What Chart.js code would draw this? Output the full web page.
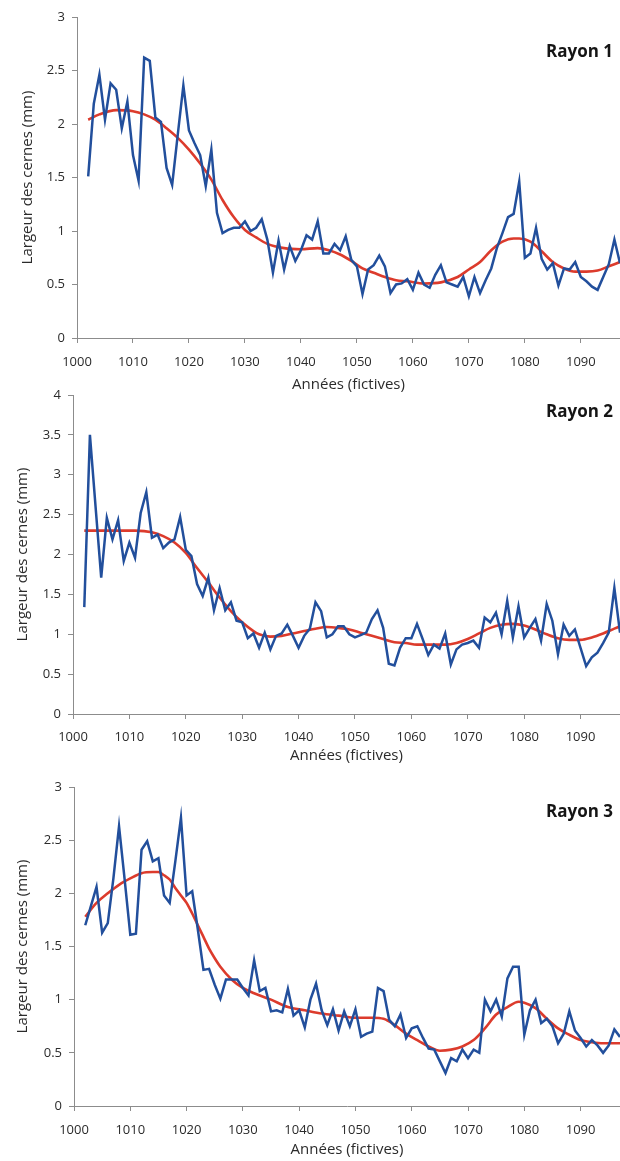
<!DOCTYPE html>
<html>
<head>
<meta charset="utf-8">
<script src="https://cdn.jsdelivr.net/npm/chart.js@4/dist/chart.umd.min.js"></script>
<style>
  html, body { margin: 0; padding: 0; background: #ffffff; }
  #wrap { position: relative; width: 620px; height: 1161px; overflow: hidden; background: #ffffff; }
  #wrap canvas { position: absolute; left: 0; top: 0; }
</style>
</head>
<body>
<div id="wrap">
  <canvas id="c1" width="620" height="1161"></canvas>
  <canvas id="c2" width="620" height="1161"></canvas>
  <canvas id="c3" width="620" height="1161"></canvas>
</div>
<script>
// ---------- DATA ----------
const years = [1002,1003,1004,1005,1006,1007,1008,1009,1010,1011,1012,1013,1014,1015,1016,1017,1018,1019,1020,1021,
  1022,1023,1024,1025,1026,1027,1028,1029,1030,1031,1032,1033,1034,1035,1036,1037,1038,1039,1040,1041,
  1042,1043,1044,1045,1046,1047,1048,1049,1050,1051,1052,1053,1054,1055,1056,1057,1058,1059,1060,1061,
  1062,1063,1064,1065,1066,1067,1068,1069,1070,1071,1072,1073,1074,1075,1076,1077,1078,1079,1080,1081,
  1082,1083,1084,1085,1086,1087,1088,1089,1090,1091,1092,1093,1094,1095,1096,1097];

const rayon1 = [1.51,2.19,2.46,2.04,2.38,2.32,1.96,2.21,1.71,1.47,2.62,2.59,2.06,2.02,1.59,1.43,1.90,2.36,1.94,1.82,
  1.71,1.42,1.76,1.17,0.98,1.01,1.03,1.03,1.09,1.00,1.03,1.11,0.92,0.61,0.91,0.64,0.86,0.72,0.82,0.96,
  0.92,1.09,0.79,0.79,0.88,0.82,0.95,0.73,0.67,0.41,0.64,0.68,0.77,0.67,0.42,0.50,0.51,0.55,0.45,0.61,
  0.50,0.47,0.59,0.68,0.52,0.50,0.48,0.57,0.39,0.57,0.42,0.54,0.65,0.84,0.98,1.13,1.16,1.46,0.75,0.79,
  1.03,0.74,0.64,0.70,0.49,0.65,0.64,0.71,0.57,0.53,0.48,0.45,0.57,0.69,0.92,0.70];

const rayon2 = [1.34,3.50,2.60,1.71,2.46,2.19,2.43,1.92,2.15,1.96,2.52,2.78,2.21,2.25,2.08,2.15,2.19,2.47,2.06,1.98,
  1.63,1.48,1.71,1.30,1.58,1.30,1.40,1.17,1.15,0.95,1.01,0.83,1.02,0.81,0.98,1.01,1.12,0.98,0.83,0.98,
  1.07,1.40,1.29,0.96,1.00,1.10,1.10,1.00,0.96,0.99,1.02,1.19,1.30,1.08,0.63,0.61,0.83,0.95,0.95,1.13,
  0.94,0.74,0.87,0.82,1.01,0.62,0.81,0.87,0.89,0.92,0.83,1.21,1.15,1.27,1.00,1.42,0.96,1.35,0.96,1.08,
  1.19,0.92,1.38,1.17,0.75,1.12,0.98,1.06,0.83,0.60,0.71,0.77,0.89,1.02,1.58,1.02];

const rayon3 = [1.70,1.88,2.06,1.63,1.72,2.14,2.63,2.13,1.61,1.62,2.41,2.49,2.30,2.33,1.98,1.91,2.30,2.71,1.98,2.02,
  1.66,1.28,1.29,1.14,1.01,1.19,1.19,1.19,1.11,1.04,1.37,1.08,1.11,0.89,0.90,0.88,1.10,0.85,0.90,0.74,
  1.00,1.15,0.90,0.76,0.91,0.71,0.89,0.75,0.91,0.65,0.68,0.70,1.11,1.08,0.81,0.75,0.86,0.64,0.73,0.75,
  0.64,0.54,0.53,0.42,0.31,0.45,0.42,0.53,0.45,0.53,0.50,1.00,0.89,1.00,0.84,1.20,1.31,1.31,0.67,0.90,
  1.00,0.78,0.82,0.75,0.59,0.68,0.89,0.71,0.64,0.56,0.62,0.57,0.50,0.57,0.72,0.65];

// smoothed trend (red curves), read at sample years
const trendYears1 = [1002,1004,1007,1010,1012,1014,1016,1018,1020,1022,1024,1026,1028,1030,1032,1034,1037,1040,1043,1045,
  1047,1049,1051,1053,1055,1057,1059,1062,1065,1068,1070,1072,1074,1076,1078,1079,1081,1083,1085,1087,1089,1091,1093,1095,1097];
const trend1 = [2.04,2.09,2.13,2.12,2.09,2.04,1.96,1.87,1.76,1.63,1.48,1.29,1.13,1.01,0.94,0.88,0.84,0.83,0.84,0.82,
  0.78,0.72,0.65,0.61,0.57,0.54,0.53,0.51,0.52,0.57,0.64,0.71,0.82,0.90,0.93,0.93,0.90,0.81,0.71,0.65,0.62,0.62,0.63,0.67,0.71];

const trendYears2 = [1002,1005,1008,1011,1014,1016,1018,1020,1022,1024,1026,1028,1030,1032,1033,1035,1037,1039,1041,1043,
  1045,1047,1049,1051,1053,1055,1057,1059,1061,1063,1066,1068,1070,1072,1074,1076,1078,1080,1082,1084,1086,1088,1090,1092,1094,1096,1097];
const trend2 = [2.30,2.30,2.30,2.30,2.28,2.23,2.15,2.02,1.83,1.65,1.46,1.29,1.15,1.04,1.00,0.97,0.98,1.01,1.04,1.07,
  1.09,1.08,1.06,1.02,0.98,0.94,0.90,0.89,0.87,0.87,0.87,0.89,0.94,1.01,1.08,1.12,1.13,1.11,1.06,1.00,0.95,0.93,0.93,0.96,1.01,1.07,1.10];

const trendYears3 = [1002,1004,1006,1008,1010,1012,1014,1015,1016,1017,1018,1019,1020,1021,1022,1023,1024,1025,1026,1028,
  1030,1032,1035,1038,1041,1044,1047,1050,1053,1055,1057,1059,1061,1063,1065,1067,1069,1071,1073,1075,1077,1079,1080,1082,
  1084,1086,1088,1090,1092,1094,1097];
const trend3 = [1.78,1.91,2.00,2.08,2.14,2.19,2.20,2.20,2.17,2.13,2.05,1.98,1.91,1.81,1.70,1.59,1.48,1.39,1.31,1.19,
  1.11,1.06,1.00,0.93,0.90,0.87,0.85,0.83,0.83,0.82,0.76,0.68,0.62,0.56,0.52,0.53,0.56,0.62,0.73,0.86,0.93,0.98,0.97,0.92,
  0.82,0.73,0.67,0.62,0.60,0.59,0.59];

const xTickLabels = ['1000','1010','1020','1030','1040','1050','1060','1070','1080','1090'];
const panelLabels = ['Rayon 1','Rayon 2','Rayon 3'];
const xTitle = 'Années (fictives)';
const yTitle = 'Largeur des cernes (mm)';
const yMax = [3, 4, 3];

// ---------- LAYOUT / STYLE ----------
const FONT = "'Open Sans', 'DejaVu Sans', sans-serif";
const TEXT = '#2b2b2b';
const AXIS = '#8c8c8c';
const BLUE = '#224f9c';
const RED = '#dc3b2c';
const TITLE_SIZE = 15;
const panels = [
  { id: 'c1', left: 77, top: 17,  bottom: 338,  axisH: 56, tickPad: 11, yTitleX: 28, labelDy: 35 },
  { id: 'c2', left: 73, top: 395, bottom: 714,  axisH: 51, tickPad: 10, yTitleX: 23, labelDy: 17 },
  { id: 'c3', left: 74, top: 787, bottom: 1106, axisH: 53, tickPad: 11, yTitleX: 23, labelDy: 25 }
];
const PAGE_H = 1161;

const panelLabelPlugin = {
  id: 'panelLabel',
  afterDraw(chart, args, opts) {
    const { ctx, chartArea } = chart;
    ctx.save();
    ctx.font = 'bold 17px ' + FONT;
    ctx.fillStyle = '#151515';
    ctx.textAlign = 'right';
    ctx.textBaseline = 'middle';
    ctx.fillText(opts.text, chartArea.right - 7, chartArea.top + opts.dy);
    ctx.restore();
  }
};

function pts(xs, ys) { return xs.map((x, i) => ({ x: x, y: ys[i] })); }

const series = [rayon1, rayon2, rayon3];
const trends = [trend1, trend2, trend3];
const trendYears = [trendYears1, trendYears2, trendYears3];

panels.forEach((p, i) => {
  const ctx = document.getElementById(p.id).getContext('2d');
  new Chart(ctx, {
    type: 'line',
    data: {
      datasets: [
        {
          data: pts(years, series[i]),
          borderColor: BLUE, borderWidth: 2.5, pointRadius: 0, tension: 0, fill: false,
          borderJoinStyle: 'miter'
        },
        {
          data: pts(trendYears[i], trends[i]),
          borderColor: RED, borderWidth: 2.6, pointRadius: 0, fill: false,
          cubicInterpolationMode: 'monotone'
        }
      ]
    },
    plugins: [panelLabelPlugin],
    options: {
      responsive: false,
      animation: false,
      devicePixelRatio: 1,
      events: [],
      layout: { padding: { left: 0, right: 0, top: p.top, bottom: PAGE_H - p.bottom - p.axisH } },
      plugins: {
        legend: { display: false },
        tooltip: { enabled: false },
        panelLabel: { text: panelLabels[i], dy: p.labelDy }
      },
      scales: {
        x: {
          type: 'linear',
          min: 1000, max: 1097,
          afterBuildTicks: (axis) => {
            axis.ticks = xTickLabels.map(l => ({ value: Number(l) }));
          },
          afterFit: (axis) => { axis.height = p.axisH; },
          ticks: {
            autoSkip: false, maxRotation: 0, padding: p.tickPad,
            color: TEXT, font: { family: FONT, size: 13 },
            callback: (v) => String(v)
          },
          grid: { display: true, drawOnChartArea: false, drawTicks: true, tickLength: 5, color: AXIS, lineWidth: 1 },
          border: { display: true, color: AXIS, width: 1 },
          title: { display: true, text: xTitle, color: TEXT, font: { family: FONT, size: TITLE_SIZE }, padding: { top: 0, bottom: 0 } }
        },
        y: {
          min: 0, max: yMax[i],
          afterFit: (axis) => { axis.width = p.left; },
          ticks: {
            stepSize: 0.5, padding: 7,
            color: TEXT, font: { family: FONT, size: 13 },
            callback: (v) => String(v)
          },
          grid: { display: true, drawOnChartArea: false, drawTicks: true, tickLength: 5, color: AXIS, lineWidth: 1 },
          border: { display: true, color: AXIS, width: 1 },
          title: { display: true, text: yTitle, color: TEXT, font: { family: FONT, size: TITLE_SIZE },
                   padding: { top: p.yTitleX - TITLE_SIZE * 0.6, bottom: 0 } }
        }
      }
    }
  });
});
</script>
</body>
</html>
